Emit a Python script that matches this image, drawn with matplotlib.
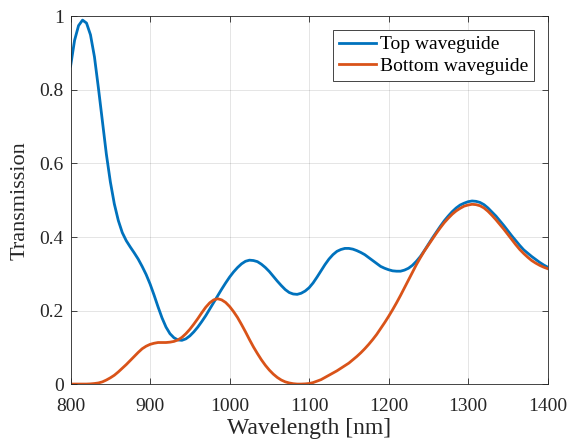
import matplotlib
matplotlib.use('Agg')
import matplotlib.pyplot as plt

# wavelength grid [nm], 5 nm step, and transmission values
wavelength = list(range(800, 1401, 5))

top_waveguide = [
    # 800 - 1000
    0.865, 0.935, 0.975, 0.99, 0.982, 0.95, 0.89, 0.805, 0.715, 0.625, 0.55, 0.49, 0.445,
    0.412, 0.39, 0.373, 0.357, 0.34, 0.32, 0.298, 0.272, 0.242, 0.21, 0.18, 0.155, 0.137,
    0.126, 0.12, 0.119, 0.123, 0.131, 0.142, 0.155, 0.17, 0.186, 0.204, 0.222, 0.24, 0.258,
    0.275, 0.291,
    # 1005 - 1095
    0.305, 0.317, 0.327, 0.334, 0.337, 0.336, 0.333, 0.326, 0.317, 0.306, 0.293, 0.28,
    0.268, 0.257, 0.249, 0.245, 0.244, 0.247, 0.253,
    # 1100 - 1200
    0.262, 0.275, 0.291, 0.308, 0.325, 0.34, 0.352, 0.361, 0.366, 0.369, 0.369, 0.367,
    0.363, 0.358, 0.352, 0.344, 0.336, 0.328, 0.32, 0.315, 0.311,
    # 1205 - 1300
    0.308, 0.307, 0.307, 0.31, 0.315, 0.323, 0.334, 0.347, 0.363, 0.38, 0.397, 0.413,
    0.429, 0.444, 0.457, 0.469, 0.479, 0.487, 0.492, 0.496,
    # 1305 - 1400
    0.498, 0.497, 0.494, 0.488, 0.479, 0.468, 0.457, 0.444, 0.431, 0.417, 0.403, 0.39,
    0.377, 0.365, 0.356, 0.347, 0.339, 0.331, 0.324, 0.318,
]

bottom_waveguide = [
    # 800 - 900
    0.0, 0.0, 0.0, 0.0, 0.0, 0.0005, 0.0015, 0.003, 0.006, 0.011, 0.017, 0.024, 0.033,
    0.043, 0.053, 0.064, 0.075, 0.086, 0.096, 0.103, 0.108,
    # 905 - 1000
    0.111, 0.113, 0.113, 0.113, 0.114, 0.116, 0.12, 0.127, 0.137, 0.149, 0.163, 0.178,
    0.194, 0.209, 0.221, 0.229, 0.232, 0.229, 0.222, 0.211,
    # 1005 - 1095
    0.197, 0.181, 0.162, 0.142, 0.121, 0.101, 0.083, 0.066, 0.051, 0.038, 0.027, 0.018,
    0.011, 0.006, 0.003, 0.001, 0.0, 0.0, 0.0005,
    # 1100 - 1200
    0.0015, 0.004, 0.008, 0.012, 0.018, 0.024, 0.03, 0.036, 0.043, 0.05, 0.057, 0.066,
    0.075, 0.085, 0.096, 0.108, 0.121, 0.135, 0.151, 0.167, 0.184,
    # 1205 - 1300
    0.202, 0.221, 0.241, 0.262, 0.283, 0.304, 0.325, 0.344, 0.362, 0.378, 0.394, 0.41,
    0.425, 0.439, 0.451, 0.462, 0.471, 0.478, 0.484, 0.487,
    # 1305 - 1400
    0.489, 0.488, 0.485, 0.479, 0.47, 0.459, 0.447, 0.434, 0.421, 0.407, 0.393, 0.379,
    0.366, 0.355, 0.345, 0.336, 0.329, 0.323, 0.318, 0.314,
]

x_ticks = [800, 900, 1000, 1100, 1200, 1300, 1400]
y_ticks = [0, 0.2, 0.4, 0.6, 0.8, 1]
y_tick_labels = ['0', '0.2', '0.4', '0.6', '0.8', '1']

plt.rcParams['font.family'] = 'Liberation Serif'
plt.rcParams['font.size'] = 14

ax_col = '#262626'
fig = plt.figure(figsize=(5.74, 4.44), dpi=100)
ax = fig.add_axes([0.123, 0.135, 0.831, 0.828])

ax.plot(wavelength, top_waveguide, color='#0072BD', lw=2, label='Top waveguide')
ax.plot(wavelength, bottom_waveguide, color='#D95319', lw=2, label='Bottom waveguide')

ax.set_xlim(800, 1400)
ax.set_ylim(0, 1)
ax.set_xticks(x_ticks)
ax.set_yticks(y_ticks)
ax.set_yticklabels(y_tick_labels)
ax.tick_params(direction='in', length=4, width=0.6, top=True, right=True,
               colors=ax_col, labelsize=14)
ax.tick_params(axis='x', pad=10)
ax.tick_params(axis='y', pad=5)
for s in ax.spines.values():
    s.set_color(ax_col)
    s.set_linewidth(0.6)
ax.grid(True, color='#000000', alpha=0.12, lw=0.6)
ax.set_axisbelow(True)

ax.set_xlabel('Wavelength [nm]', fontsize=17, color=ax_col, labelpad=2)
ax.set_ylabel('Transmission', fontsize=16, color=ax_col, labelpad=7)

leg = ax.legend(loc='upper right', fontsize=14, fancybox=False, framealpha=1,
                edgecolor=ax_col, handlelength=1.9, handletextpad=0.2,
                borderpad=0.3, labelspacing=0.2, borderaxespad=0.7)
leg.get_frame().set_linewidth(0.6)

fig.savefig('out.png', dpi=100)
